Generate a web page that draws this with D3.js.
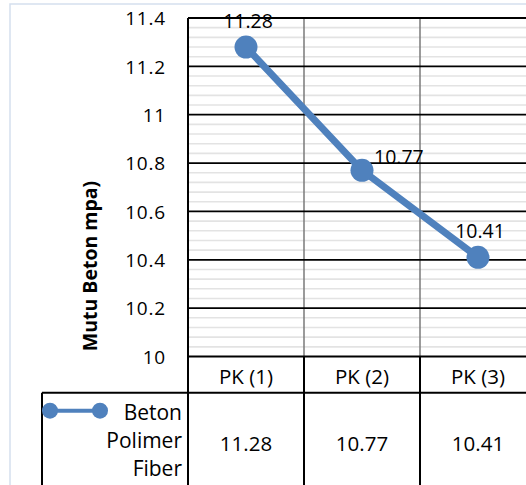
<!DOCTYPE html>
<html>
<head>
<meta charset="utf-8">
<script src="https://cdn.jsdelivr.net/npm/d3@7"></script>
<style>
  html, body { margin: 0; padding: 0; background: #fff; }
  svg { display: block; }
  text { font-family: "Open Sans", "Noto Sans", sans-serif; fill: #000; }
</style>
</head>
<body>
<svg id="chart" width="526" height="485"></svg>
<script>
// ---- data ----
const categories = ["PK (1)", "PK (2)", "PK (3)"];
const values = [11.28, 10.77, 10.41];
const seriesNameLines = ["Beton", "Polimer", "Fiber"];
const yTickValues = [10, 10.2, 10.4, 10.6, 10.8, 11, 11.2, 11.4];
const yTickLabels = ["10", "10.2", "10.4", "10.6", "10.8", "11", "11.2", "11.4"];
const minorStep = 0.04;
const labelPlacement = ["top", "right", "top"];
const yAxisTitle = "Mutu Beton mpa)";

// ---- layout ----
const plotL = 188, plotR = 536, plotT = 18, plotB = 356.5;
const headerB = 392.7, tableB = 493, tableL = 42;
const blue = "#4f81bd";
const FONT = '"Open Sans", "Noto Sans", sans-serif';

const svg = d3.select("#chart");

// chart area border
svg.append("rect").attr("x", 10).attr("y", 4).attr("width", 540).attr("height", 520)
  .attr("fill", "#fff").attr("stroke", "#d5dfee").attr("stroke-width", 1.5);

const x = d3.scaleBand().domain(categories).range([plotL, plotR]).padding(0);
const y = d3.scaleLinear().domain([10, 11.4]).range([plotB, plotT]);

// minor gridlines
const nMinor = Math.round((11.4 - 10) / minorStep);
const minor = d3.range(0, nMinor + 1).map(i => 10 + i * minorStep)
  .filter(v => !yTickValues.some(t => Math.abs(t - v) < 1e-6));
svg.append("g").selectAll("line").data(minor).join("line")
  .attr("x1", plotL).attr("x2", plotR)
  .attr("y1", d => y(d)).attr("y2", d => y(d))
  .attr("stroke", "#e3e3e3").attr("stroke-width", 1.6);

// vertical category gridlines
svg.append("g").selectAll("line").data(categories.slice(1)).join("line")
  .attr("x1", d => x(d)).attr("x2", d => x(d))
  .attr("y1", plotT).attr("y2", plotB)
  .attr("stroke", "#7a7a7a").attr("stroke-width", 1.5);

// major gridlines
svg.append("g").selectAll("line").data(yTickValues).join("line")
  .attr("x1", plotL).attr("x2", plotR)
  .attr("y1", d => y(d)).attr("y2", d => y(d))
  .attr("stroke", "#000").attr("stroke-width", 1.8);

// y axis with labels
const yAxis = d3.axisLeft(y).tickValues(yTickValues)
  .tickFormat((d, i) => yTickLabels[i]).tickSize(0).tickPadding(22);
const gy = svg.append("g").attr("transform", `translate(${plotL},0)`).call(yAxis);
gy.select(".domain").remove();
gy.selectAll("text").style("font-size", "19px").style("font-family", FONT)
  .style("letter-spacing", "0.8px").attr("dy", "0.36em");

// axis title
svg.append("text").attr("transform", "translate(97,266) rotate(-90)")
  .attr("text-anchor", "middle").style("font-size", "19.5px").style("font-weight", "bold")
  .text(yAxisTitle);

// ---- data table ----
const tbl = svg.append("g");
tbl.append("line").attr("x1", tableL).attr("x2", plotR).attr("y1", headerB).attr("y2", headerB)
  .attr("stroke", "#000").attr("stroke-width", 2);
tbl.append("line").attr("x1", tableL).attr("x2", tableL).attr("y1", headerB).attr("y2", tableB)
  .attr("stroke", "#000").attr("stroke-width", 2);
tbl.append("line").attr("x1", tableL).attr("x2", plotR).attr("y1", tableB).attr("y2", tableB)
  .attr("stroke", "#000").attr("stroke-width", 2);
tbl.selectAll("line.v").data(categories.slice(1)).join("line").attr("class", "v")
  .attr("x1", d => x(d)).attr("x2", d => x(d)).attr("y1", plotB).attr("y2", tableB)
  .attr("stroke", "#000").attr("stroke-width", 2);
tbl.selectAll("text.h").data(categories).join("text").attr("class", "h")
  .attr("x", d => x(d) + x.bandwidth() / 2).attr("y", 383.5)
  .attr("text-anchor", "middle").style("font-size", "20.5px").text(d => d);
tbl.selectAll("text.v").data(values).join("text").attr("class", "v")
  .attr("x", (d, i) => x(categories[i]) + x.bandwidth() / 2).attr("y", 450.5)
  .attr("text-anchor", "middle").style("font-size", "20.5px").text(d => d.toFixed(2));
// legend key
tbl.append("line").attr("x1", 50).attr("x2", 100).attr("y1", 410.7).attr("y2", 410.7)
  .attr("stroke", blue).attr("stroke-width", 4);
tbl.selectAll("circle").data([50, 100]).join("circle")
  .attr("cx", d => d).attr("cy", 410.7).attr("r", 8).attr("fill", blue);
tbl.selectAll("text.s").data(seriesNameLines).join("text").attr("class", "s")
  .attr("x", 182).attr("y", (d, i) => 420 + i * 28)
  .attr("text-anchor", "end").style("font-size", "21px").text(d => d);

// y axis line (plot left border, continuing through table)
svg.append("line").attr("x1", plotL).attr("x2", plotL).attr("y1", plotT).attr("y2", tableB)
  .attr("stroke", "#000").attr("stroke-width", 2);

// ---- series ----
const pts = values.map((v, i) => [x(categories[i]) + x.bandwidth() / 2, y(v)]);
svg.append("path").datum(pts).attr("d", d3.line())
  .attr("fill", "none").attr("stroke", blue).attr("stroke-width", 7)
  .attr("stroke-linejoin", "round");
svg.append("g").selectAll("circle").data(pts).join("circle")
  .attr("cx", d => d[0]).attr("cy", d => d[1]).attr("r", 11.5).attr("fill", blue);

// data labels
svg.append("g").selectAll("text").data(values).join("text")
  .attr("x", (d, i) => pts[i][0] + (labelPlacement[i] === "right" ? 12 : 2))
  .attr("y", (d, i) => pts[i][1] + (labelPlacement[i] === "right" ? -6 : -19))
  .attr("text-anchor", (d, i) => labelPlacement[i] === "right" ? "start" : "middle")
  .style("font-size", "19.5px").text(d => d.toFixed(2));
</script>
</body>
</html>
